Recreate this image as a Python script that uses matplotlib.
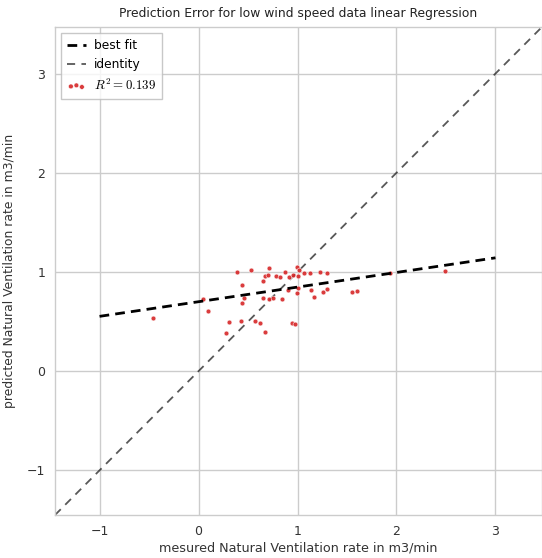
import numpy as np
import matplotlib
matplotlib.use("Agg")
from matplotlib import pyplot as plt

# measured vs predicted natural ventilation rate (m3/min), low wind speed subset
measured = [
    -0.46, 0.05, 0.10, 0.28, 0.31, 0.39, 0.43, 0.44, 0.44, 0.46,
    0.53, 0.57, 0.62, 0.65, 0.65, 0.67, 0.67, 0.70, 0.71, 0.71,
    0.75, 0.78, 0.82, 0.84, 0.87, 0.91, 0.90, 0.94, 0.95, 0.97,
    0.99, 1.00, 1.00, 0.99, 1.02, 1.07, 1.13, 1.14, 1.17, 1.23,
    1.26, 1.30, 1.30, 1.55, 1.60, 1.93, 2.49,
]
predicted = [
    0.54, 0.73, 0.61, 0.38, 0.50, 1.00, 0.51, 0.87, 0.69, 0.74,
    1.02, 0.51, 0.49, 0.91, 0.74, 0.39, 0.96, 0.97, 1.04, 0.73,
    0.74, 0.96, 0.95, 0.73, 1.00, 0.95, 0.82, 0.49, 0.97, 0.48,
    1.05, 0.96, 0.84, 0.79, 1.02, 0.99, 0.99, 0.82, 0.75, 1.00,
    0.80, 0.99, 0.83, 0.80, 0.81, 0.99, 1.01,
]

# linear fit of predicted on measured
fit_slope = 0.1475
fit_intercept = 0.70
fit_range = [-1, 3]
r2_score = 0.139

ticks = [-1, 0, 1, 2, 3]
limits = (-1.45, 3.47)

plt.rcParams["font.family"] = ["DejaVu Sans"]
plt.rcParams["mathtext.fontset"] = "cm"

fig = plt.figure(figsize=(5.42, 5.58), dpi=100)
ax = fig.add_axes([0.1015, 0.0771, 0.8985, 0.8746])

ax.set_facecolor("white")
for spine in ax.spines.values():
    spine.set_color("#cccccc")
    spine.set_linewidth(1.0)
ax.grid(True, color="#cccccc", linewidth=1.0)
ax.set_axisbelow(True)

r2_label = f"$R^2 = {r2_score}$"
ax.scatter(
    measured, predicted, s=12, color="#d62728", edgecolors="white",
    linewidths=0.4, alpha=0.9, label=r2_label, zorder=3,
)

xr = np.linspace(fit_range[0], fit_range[1], 100)
ax.plot(xr, fit_slope * xr + fit_intercept, ls=(0, (3.5, 2.2)), color="k",
        lw=2, label="best fit", zorder=4)

ax.set_xlim(*limits)
ax.set_ylim(*limits)
ax.plot(limits, limits, ls=(0, (4.5, 3.5)), color="#111111", alpha=0.7, lw=1.3,
        label="identity", zorder=2)

ax.set_xticks(ticks)
ax.set_yticks(ticks)
ax.tick_params(length=0, labelsize=9, labelcolor="#333333", pad=7)

ax.set_title("Prediction Error for low wind speed data linear Regression",
             fontsize=8.9, color="#222222", pad=7)
ax.set_xlabel("mesured Natural Ventilation rate in m3/min", fontsize=9.2,
              color="#333333", labelpad=3)
ax.set_ylabel("predicted Natural Ventilation rate in m3/min", fontsize=8.9,
              color="#333333", labelpad=8)

handles, labels = ax.get_legend_handles_labels()
order = [labels.index("best fit"), labels.index("identity"), labels.index(r2_label)]
leg = ax.legend([handles[i] for i in order], [labels[i] for i in order],
                loc="upper left", fontsize=8.8, frameon=True, fancybox=False,
                scatterpoints=3, handlelength=1.5, handletextpad=0.7,
                borderpad=0.5, edgecolor="#bbbbbb")
leg.get_frame().set_linewidth(1.0)
leg.get_texts()[2].set_fontsize(9.3)

fig.savefig("out.png", dpi=100)
